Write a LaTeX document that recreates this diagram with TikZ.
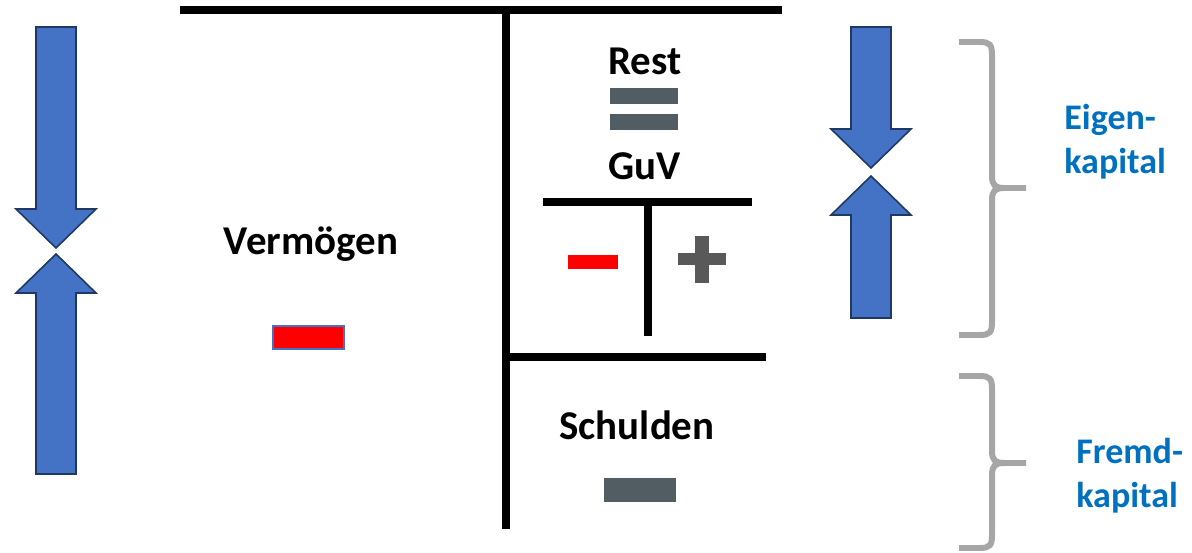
\documentclass[tikz,border=0pt]{standalone}
\usepackage{fontspec}
\setmainfont{Carlito}
\usepackage{tikz}

\definecolor{arrowblue}{HTML}{4472C4}
\definecolor{arrowline}{HTML}{1F3864}
\definecolor{slate}{HTML}{525C63}
\definecolor{plusgray}{HTML}{595959}
\definecolor{bracegray}{HTML}{A6A6A6}
\definecolor{labelblue}{HTML}{0070C0}

\begin{document}
\begin{tikzpicture}[x=0.02cm, y=-0.02cm,
    konto/.style={line width=4.2pt},
    blockarrow/.style={fill=arrowblue, draw=arrowline, line width=0.9pt, line join=miter},
    klammer/.style={draw=bracegray, line width=3.4pt},
    posten/.style={font=\fontsize{23.3}{28}\selectfont\bfseries, inner sep=0pt, anchor=base},
    kapital/.style={font=\fontsize{20.5}{24}\selectfont\bfseries, text=labelblue, inner sep=0pt, anchor=base west}]

    \useasboundingbox (0,0) rectangle (1192,553);

    \draw[blockarrow] (36,27) -- (76,27) -- (76,209) -- (96,209) -- (56,248) -- (16,209) -- (36,209) -- cycle;

    \draw[blockarrow] (36,474) -- (76,474) -- (76,293) -- (96,293) -- (56,254) -- (16,293) -- (36,293) -- cycle;



    \draw[konto] (180,10) -- (782,10);

    \draw[konto] (506,10) -- (506,529);

    \draw[konto] (506,357) -- (766,357);

    \node[posten] (vermoegen) at (311,255) {Vermögen};

    \filldraw[fill=red, draw=arrowblue, line width=0.6pt] (273,326) rectangle (344,349);



    \node[posten] (rest) at (645,75) {Rest};

    \fill[slate] (610,88) rectangle (678,104);

    \fill[slate] (610,114) rectangle (678,130);

    \node[posten] (guv) at (645,180) {GuV};

    \draw[konto] (543,202) -- (752,202);

    \draw[konto] (648,202) -- (648,336);

    \fill[red] (568,255) rectangle (618,269);

    \fill[plusgray] (678,253) rectangle (726,265);

    \fill[plusgray] (695,236) rectangle (709,283);



    \node[posten] (schulden) at (637,439) {Schulden};

    \fill[slate] (604,478) rectangle (676,502);



    \draw[blockarrow] (851,27) -- (891,27) -- (891,129) -- (911,129) -- (871,168) -- (831,129) -- (851,129) -- cycle;

    \draw[blockarrow] (851,318) -- (891,318) -- (891,215) -- (911,215) -- (871,176) -- (831,215) -- (851,215) -- cycle;



    \draw[klammer] (959,42) -- (980,42) .. controls (990,42) and (992,45) .. (992,55)
      -- (992,176) .. controls (992,185) and (995,188) .. (1004,188) -- (1026,188);

    \draw[klammer] (1004,188) .. controls (995,188) and (992,191) .. (992,200)
      -- (992,322) .. controls (992,332) and (990,335) .. (980,335) -- (959,335);

    \draw[klammer] (959,376) -- (980,376) .. controls (990,376) and (992,379) .. (992,389)
      -- (992,451) .. controls (992,460) and (995,463) .. (1004,463) -- (1026,463);

    \draw[klammer] (1004,463) .. controls (995,463) and (992,466) .. (992,475)
      -- (992,535) .. controls (992,545) and (990,548) .. (980,548) -- (959,548);



    \node[kapital] (eigen) at (1064,130) {Eigen-};

    \node[kapital] (eigenkap) at (1064,174) {kapital};

    \node[kapital] (fremd) at (1076,463) {Fremd-};

    \node[kapital] (fremdkap) at (1076,507) {kapital};

  \end{tikzpicture}
\end{document}
